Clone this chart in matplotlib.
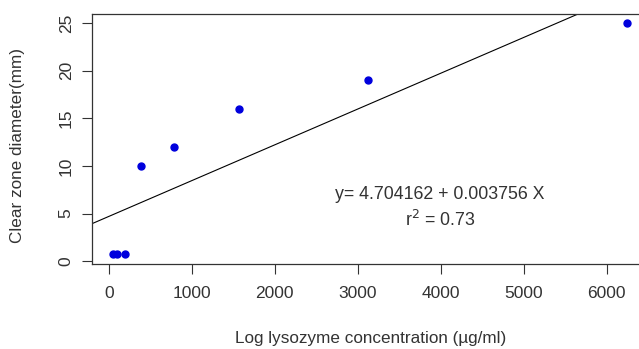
import numpy as np
import matplotlib
matplotlib.use("Agg")
import matplotlib.pyplot as plt

plt.rcParams['font.family'] = ['Liberation Sans', 'DejaVu Sans']

# lysozyme concentration (ug/ml) and clear zone diameter (mm)
conc = [49, 98, 195, 390, 781, 1562, 3125, 6250]
diam = [0.7, 0.8, 0.8, 10, 12, 16, 19, 25]
intercept = 4.704162
slope = 0.003756

fig = plt.figure(figsize=(6.39, 3.49), dpi=100)
# right edge of the box falls just outside the image, as in the reference
ax = fig.add_axes([92 / 639, 1 - 264 / 349, (648 - 92) / 639, (264 - 14) / 349])

ax.plot(conc, diam, 'o', color='#0000dd', markersize=5, zorder=3)

xl = np.array([-205, 6500])
ax.plot(xl, intercept + slope * xl, color='black', lw=0.8)

ax.set_xlim(-205, 6500)
ax.set_ylim(-0.3, 25.95)
ax.set_xticks(range(0, 7000, 1000))
ax.set_yticks(range(0, 30, 5))
ax.tick_params(axis='both', length=7.2, width=0.8, labelsize=12.5, color='#333333', labelcolor='#333333')
ax.tick_params(axis='x', pad=8.5)
ax.tick_params(axis='y', pad=6)
for lab in ax.get_yticklabels():
    lab.set_rotation(90)
    lab.set_va('center')
for s in ax.spines.values():
    s.set_linewidth(0.9)
    s.set_color('#333333')

ax.text(3990, 6.98, 'y= 4.704162 + 0.003756 X', ha='center', va='center', fontsize=12.8, color='#333333')
ax.text(3990, 4.3, r'r$^2$ = 0.73', ha='center', va='center', fontsize=12.8, color='#333333')

fig.text(371 / 639, 1 - 339 / 349, 'Log lysozyme concentration (\u00b5g/ml)', ha='center', va='center',
         fontsize=12.3, color='#333333')
fig.text(18 / 639, 1 - 145 / 349, 'Clear zone diameter(mm)', ha='center', va='center', rotation=90,
         fontsize=12.3, color='#333333')

fig.savefig('out.png', dpi=100)
